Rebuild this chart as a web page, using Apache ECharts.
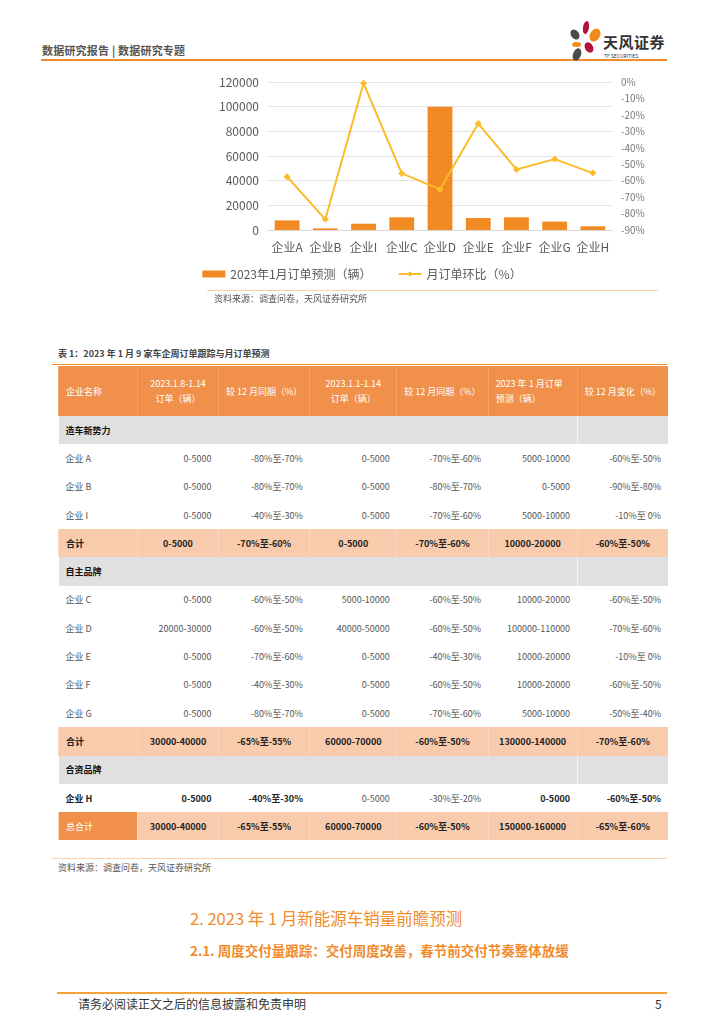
<!DOCTYPE html>
<html><head><meta charset="utf-8">
<script src="https://cdn.jsdelivr.net/npm/echarts@6/dist/echarts.min.js"></script>
<style>
html,body{margin:0;padding:0;background:#fff;width:724px;height:1024px;overflow:hidden;font-family:"Noto Sans CJK SC","Noto Sans",sans-serif;}
.abs{position:absolute;}
#chart{position:absolute;left:0;top:0;width:724px;height:310px;}
table{border-collapse:collapse;table-layout:fixed;}
td{font-size:9px;height:28.3px;padding:0 7px;color:#555;white-space:nowrap;}
tr.head td{background:#f0904a;color:#fff;height:50px;line-height:15px;border-left:1px solid #f3a36a;}
tr.sec td{background:#e0e0e0;color:#111;font-weight:bold;}
tr.sum td{background:#f8cbad;color:#222;font-weight:bold;text-align:center;border-left:1px solid #fad7c0;}
td.num{text-align:right;}
td.name{color:#555;}
</style></head>
<body>
<div class="abs" style="left:42px;top:42px;font-size:11px;color:#555;font-weight:bold;letter-spacing:0.2px;">数据研究报告 | 数据研究专题</div>
<div class="abs" style="left:41px;top:59px;width:626px;height:2px;background:#f08c2c;"></div>
<!-- logo -->
<div class="abs" style="left:583px;top:21px;width:6px;height:13px;border-radius:50%;background:#b5123a;transform:rotate(10deg);"></div>
<div class="abs" style="left:571px;top:29px;width:8px;height:11px;border-radius:50%;background:#4a4a4a;transform:rotate(-35deg);"></div>
<div class="abs" style="left:590px;top:28px;width:10px;height:14px;border-radius:50%;background:#f08c1e;transform:rotate(30deg);"></div>
<div class="abs" style="left:572px;top:42px;width:9px;height:5px;border-radius:50%;background:#f08c1e;"></div>
<div class="abs" style="left:585px;top:42px;width:8px;height:11px;border-radius:50%;background:#b5123a;transform:rotate(-30deg);"></div>
<div class="abs" style="left:573px;top:48px;width:8px;height:13px;border-radius:50%;background:#4a4a4a;transform:rotate(20deg);"></div>
<div class="abs" style="left:603px;top:31px;font-size:15px;font-weight:bold;color:#333;letter-spacing:0.5px;">天风证券</div>
<div class="abs" style="left:604px;top:52px;font-size:5px;color:#333;">TF SECURITIES</div>

<div id="chart"></div>
<div class="abs" style="left:207px;top:290px;width:451px;height:1px;background:#fbd0a8;"></div>
<div class="abs" style="left:214px;top:292px;font-size:9px;color:#555;">资料来源：调查问卷，天风证券研究所</div>

<div class="abs" style="left:58px;top:347px;font-size:9px;color:#444;font-weight:bold;">表 1：2023 年 1 月 9 家车企周订单跟踪与月订单预测</div>
<div class="abs" style="left:52px;top:364px;width:615px;height:1px;background:#f08c2c;"></div>
<div id="tbl" class="abs" style="left:58px;top:366px;"></div>

<div class="abs" style="left:52px;top:858px;width:615px;height:1px;background:#fbd0a8;"></div>
<div class="abs" style="left:58px;top:861px;font-size:9px;color:#555;">资料来源：调查问卷，天风证券研究所</div>

<div class="abs" style="left:190px;top:906px;font-size:16.5px;color:#f08c2c;">2. 2023 年 1 月新能源车销量前瞻预测</div>
<div class="abs" style="left:190px;top:940px;font-size:13.5px;color:#f08c2c;font-weight:bold;">2.1. 周度交付量跟踪：交付周度改善，春节前交付节奏整体放缓</div>

<div class="abs" style="left:57px;top:992px;width:610px;height:2px;background:#f3a33a;"></div>
<div class="abs" style="left:78px;top:995px;font-size:12px;color:#333;">请务必阅读正文之后的信息披露和免责申明</div>
<div class="abs" style="left:655px;top:995px;font-size:12px;color:#333;">5</div>

<script>
// chart data
var categories = ['企业A','企业B','企业I','企业C','企业D','企业E','企业F','企业G','企业H'];
var orders = [7800, 1300, 5100, 10300, 100000, 9700, 10300, 6800, 3000];
var momPct = [-57.6, -83.5, -0.8, -55.6, -65.3, -25.3, -53.2, -46.9, -55.4];
var seriesNames = ['2023年1月订单预测（辆）', '月订单环比（%）'];

// table data
var tableHeader = ['企业名称','2023.1.8-1.14<br>订单（辆）','较 12 月同期（%）','2023.1.1-1.14<br>订单（辆）','较 12 月同期（%）','2023 年 1 月订单<br>预测（辆）','较 12 月变化（%）'];
var tableRows = [
  ['sec','造车新势力'],
  ['row','企业 A','0-5000','-80%至-70%','0-5000','-70%至-60%','5000-10000','-60%至-50%'],
  ['row','企业 B','0-5000','-80%至-70%','0-5000','-80%至-70%','0-5000','-90%至-80%'],
  ['row','企业 I','0-5000','-40%至-30%','0-5000','-70%至-60%','5000-10000','-10%至 0%'],
  ['sum','合计','0-5000','-70%至-60%','0-5000','-70%至-60%','10000-20000','-60%至-50%'],
  ['sec','自主品牌'],
  ['row','企业 C','0-5000','-60%至-50%','5000-10000','-60%至-50%','10000-20000','-60%至-50%'],
  ['row','企业 D','20000-30000','-60%至-50%','40000-50000','-60%至-50%','100000-110000','-70%至-60%'],
  ['row','企业 E','0-5000','-70%至-60%','0-5000','-40%至-30%','10000-20000','-10%至 0%'],
  ['row','企业 F','0-5000','-40%至-30%','0-5000','-60%至-50%','10000-20000','-60%至-50%'],
  ['row','企业 G','0-5000','-80%至-70%','0-5000','-70%至-60%','5000-10000','-50%至-40%'],
  ['sum','合计','30000-40000','-65%至-55%','60000-70000','-60%至-50%','130000-140000','-70%至-60%'],
  ['sec','合资品牌'],
  ['rowH','企业 H','0-5000','-40%至-30%','0-5000','-30%至-20%','0-5000','-60%至-50%'],
  ['total','总合计','30000-40000','-65%至-55%','60000-70000','-60%至-50%','150000-160000','-65%至-60%']
];
var colW = [79,81,90,87,91,89,90];

(function(){
  var h = '<table><colgroup>' + colW.map(function(w){return '<col style="width:'+w+'px">';}).join('') + '</colgroup>';
  h += '<tr class="head">' + tableHeader.map(function(t,i){
    var al = i===0 ? 'left' : 'center';
    if (i===4) al = 'right';
    if (i===5) al = 'left';
    return '<td style="text-align:'+al+'">'+t+'</td>';}).join('') + '</tr>';
  tableRows.forEach(function(r){
    var type = r[0];
    if (type==='sec') {
      h += '<tr class="sec"><td colspan="6">'+r[1]+'</td><td style="border-left:1px solid #f4f4f4"></td></tr>';
    } else if (type==='sum' || type==='total') {
      h += '<tr class="sum">';
      for (var i=1;i<r.length;i++){
        var st = (i===1) ? 'text-align:left;' : '';
        if (type==='total' && i===1) st += 'background:#f0904a;color:#fff;font-weight:normal;';
        h += '<td style="'+st+'">'+r[i]+'</td>';
      }
      h += '</tr>';
    } else {
      h += '<tr>';
      for (var j=1;j<r.length;j++){
        var st2 = 'color:#555;';
        if (type==='rowH' && j!==4 && j!==5) st2 = 'font-weight:bold;color:#222;';
        h += '<td class="'+(j>1?'num':'name')+'" style="'+st2+'">'+r[j]+'</td>';
      }
      h += '</tr>';
    }
  });
  h += '</table>';
  document.getElementById('tbl').innerHTML = h;
})();

var chart = echarts.init(document.getElementById('chart'), null, {renderer:'canvas'});
chart.setOption({
  animation:false,
  textStyle:{fontFamily:'"Noto Sans CJK SC","Noto Sans",sans-serif'},
  grid:{left:268, right:112, top:82, bottom:80},
  legend:{
    data:[{name:seriesNames[0], icon:'rect'}, {name:seriesNames[1]}],
    left:'center', top:263, itemWidth:23, itemHeight:7, itemGap:26,
    textStyle:{fontSize:12, color:'#595959'}
  },
  xAxis:{
    type:'category', data:categories,
    axisLine:{lineStyle:{color:'#d9d9d9'}}, axisTick:{show:false},
    axisLabel:{fontSize:12, color:'#595959', margin:11, interval:0}
  },
  yAxis:[
    {type:'value', min:0, max:120000, interval:20000,
     axisLine:{show:false}, axisTick:{show:false},
     axisLabel:{fontSize:12, color:'#595959', margin:9, formatter:function(v){return String(v);}},
     splitLine:{lineStyle:{color:'#e3e3e3'}}},
    {type:'value', min:-90, max:0, interval:10,
     axisLine:{show:false}, axisTick:{show:false},
     axisLabel:{fontSize:10, color:'#777', margin:9, formatter:function(v){return v+'%';}},
     splitLine:{show:false}}
  ],
  series:[
    {name:seriesNames[0], type:'bar', data:orders, barWidth:'65%', itemStyle:{color:'#f28a24'}},
    {name:seriesNames[1], type:'line', yAxisIndex:1, data:momPct,
     symbol:'diamond', symbolSize:7, lineStyle:{width:2, color:'#fcbb2a'}, itemStyle:{color:'#fcbb2a'}}
  ]
});
</script>
</body></html>
